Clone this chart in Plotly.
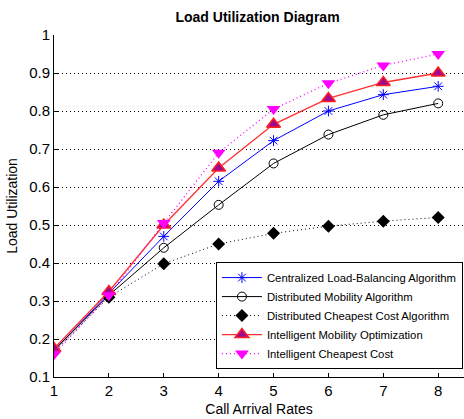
import plotly.graph_objects as go

rates = [1, 2, 3, 4, 5, 6, 7, 8]
centralized = [0.170, 0.320, 0.470, 0.615, 0.722, 0.800, 0.843, 0.865]
distributed_mobility = [0.170, 0.315, 0.440, 0.553, 0.662, 0.738, 0.790, 0.820]
distributed_cheapest = [0.165, 0.310, 0.398, 0.450, 0.478, 0.497, 0.510, 0.520]
intelligent_mobility = [0.175, 0.325, 0.500, 0.650, 0.765, 0.833, 0.875, 0.900]
intelligent_cheapest = [0.160, 0.315, 0.505, 0.690, 0.805, 0.873, 0.920, 0.950]
y_ticks = [0.1, 0.2, 0.3, 0.4, 0.5, 0.6, 0.7, 0.8, 0.9, 1.0]
y_tick_text = ["0.1", "0.2", "0.3", "0.4", "0.5", "0.6", "0.7", "0.8", "0.9", "1"]

FONT = "Liberation Sans Narrow, Arial Narrow, Liberation Sans, sans-serif"
DOTS = "1px,3px"

fig = go.Figure()
fig.add_trace(go.Scatter(
    x=rates, y=centralized, name="Centralized Load-Balancing Algorithm",
    mode="lines+markers", line=dict(color="#0000ff", width=1),
    marker=dict(symbol="asterisk-open", size=9, line=dict(color="#0000ff", width=1)),
))
fig.add_trace(go.Scatter(
    x=rates, y=distributed_mobility, name="Distributed Mobility Algorithm",
    mode="lines+markers", line=dict(color="#000000", width=1),
    marker=dict(symbol="circle-open", size=9, color="#000000", line=dict(width=1)),
))
fig.add_trace(go.Scatter(
    x=rates, y=distributed_cheapest, name="Distributed Cheapest Cost Algorithm",
    mode="lines+markers", line=dict(color="#000000", width=1, dash=DOTS),
    marker=dict(symbol="diamond", size=10, color="#000000"),
))
fig.add_trace(go.Scatter(
    x=rates, y=intelligent_mobility, name="Intelligent Mobility Optimization",
    mode="lines+markers", line=dict(color="#ff3030", width=1.3),
    marker=dict(symbol="triangle-up", size=12, color="#a0088f",
                line=dict(color="#ff2020", width=1.5)),
))
fig.add_trace(go.Scatter(
    x=rates, y=intelligent_cheapest, name="Intelligent Cheapest Cost",
    mode="lines+markers", line=dict(color="#ff00ff", width=1.3, dash=DOTS),
    marker=dict(symbol="triangle-down", size=12, color="#ff00ff"),
))

fig.update_layout(
    width=464, height=419,
    margin=dict(l=54, r=0, t=35, b=42, autoexpand=False),
    paper_bgcolor="white", plot_bgcolor="white",
    font=dict(family=FONT, size=14, color="#000000"),
    title=dict(text="<b>Load Utilization Diagram</b>", x=0.555, xanchor="center",
               y=0.958, yanchor="middle", font=dict(family=FONT, size=14)),
    legend=dict(x=0.395, y=0.336, xanchor="left", yanchor="top",
                bgcolor="white", bordercolor="#000000", borderwidth=1,
                font=dict(family=FONT, size=11.3), itemwidth=40,
                tracegroupgap=0),
    showlegend=True,
)
fig.update_xaxes(
    range=[1, 8.47], tickvals=rates, showgrid=False, zeroline=False,
    showline=True, linecolor="#000000", linewidth=1,
    ticks="inside", ticklen=4, tickcolor="#000000",
    title=dict(text="Call Arrival Rates", standoff=6, font=dict(size=14)),
    tickfont=dict(size=15), automargin=False,
)
fig.update_yaxes(
    range=[0.1, 1.0], tickvals=y_ticks, ticktext=y_tick_text,
    showgrid=True, gridcolor="#000000", griddash=DOTS, gridwidth=1,
    zeroline=False, showline=True, linecolor="#000000", linewidth=1,
    ticks="inside", ticklen=4, tickcolor="#000000",
    title=dict(text="Load Utilization", standoff=8, font=dict(size=14)),
    tickfont=dict(size=15), automargin=False,
)

fig.write_html("out.html")
